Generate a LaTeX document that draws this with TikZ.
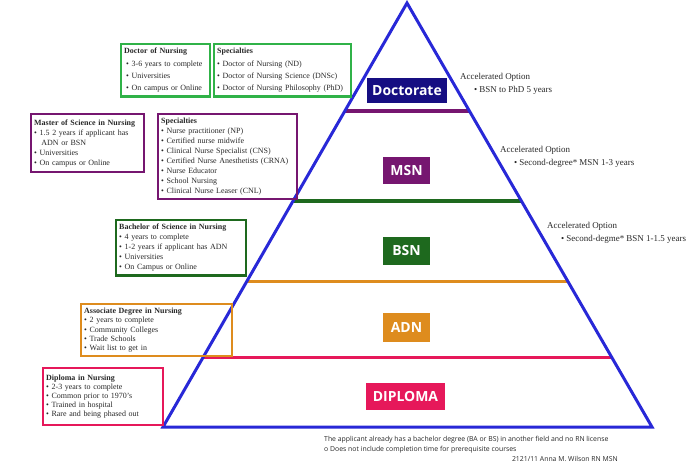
\documentclass[tikz,border=0pt]{standalone}
\usepackage{fontspec}
\setmainfont{Liberation Serif}
\setsansfont{Open Sans}
\usepackage{tikz}
\usetikzlibrary{calc,positioning}
\definecolor{pyrblue}{RGB}{40,40,215}
\definecolor{docnavy}{RGB}{22,14,130}
\definecolor{docgreen}{RGB}{48,178,72}
\definecolor{msnpurple}{RGB}{118,22,112}
\definecolor{bsngreen}{RGB}{30,105,30}
\definecolor{adnorange}{RGB}{222,140,30}
\definecolor{dippink}{RGB}{230,24,90}
\definecolor{notegray}{RGB}{40,40,40}
\newcommand{\levelLine}[2]{
    \draw[levelline,draw=#2] ($(APEX)!#1!(BASEL)$) -- ($(APEX)!#1!(BASER)$);
}
\newcommand{\bul}{\textbullet\ }

\begin{document}
\begin{tikzpicture}[x=1bp,y=-1bp]
    \tikzstyle{infobox}=[rectangle,draw,line width=2.4bp,anchor=north west,%
    inner xsep=3bp,inner ysep=4bp,align=left,font=\fontsize{8}{10}\selectfont,text=notegray] %
    \tikzstyle{degree}=[rectangle,text=white,inner sep=0pt,%
    font=\sffamily\bfseries\fontsize{14}{14}\selectfont] %
    \tikzstyle{levelline}=[line width=3.2bp] %
    \tikzstyle{accel}=[anchor=north west,align=left,inner sep=0pt,%
    font=\fontsize{9}{12.8}\selectfont,text=notegray] %
    \tikzstyle{note}=[inner sep=0pt,font=\sffamily\fontsize{6.9}{10}\selectfont,%
    text=notegray] %

    \useasboundingbox (0,0) rectangle (700,465);

    %% Pyramid
    \coordinate (APEX) at (407,3);
    \coordinate (BASEL) at (163,427);
    \coordinate (BASER) at (652,427);
    \levelLine{0.2547}{msnpurple};
    \levelLine{0.467}{bsngreen};
    \levelLine{0.656}{adnorange};
    \levelLine{0.837}{dippink};
    \draw[pyrblue,line width=3bp,line join=miter] (APEX) -- (BASER) -- (BASEL) -- cycle;

    \node[degree,fill=docnavy,minimum width=80bp,minimum height=25bp] (DOC) at (407,90.5) {Doctorate};
    \node[degree,fill=msnpurple,minimum width=47bp,minimum height=27bp] (MSN) at (406.5,170.5) {MSN};
    \node[degree,fill=bsngreen,minimum width=47bp,minimum height=28bp] (BSN) at (406.5,251) {BSN};
    \node[degree,fill=adnorange,minimum width=47bp,minimum height=28bp] (ADN) at (406.5,327.5) {ADN};
    \node[degree,fill=dippink,minimum width=79bp,minimum height=27bp] (DIP) at (405.5,396.5) {DIPLOMA};

    %% Boxes on the left
    \node[infobox,draw=docgreen,minimum width=89bp,minimum height=51bp,text width=83bp,%
    font=\fontsize{8}{12.4}\selectfont] (DOCBOX) at (120,43) {%
      \textbf{Doctor of Nursing}\\
      \hspace*{2bp}\bul 3-6 years to complete\\
      \hspace*{2bp}\bul Universities\\
      \hspace*{2bp}\bul On campus or Online};
    \node[infobox,draw=docgreen,minimum width=137bp,minimum height=51bp,text width=131bp,%
    font=\fontsize{8}{12.4}\selectfont] (DOCSPEC) at (213,43) {%
      \textbf{Specialties}\\
      \bul Doctor of Nursing (ND)\\
      \bul Doctor of Nursing Science (DNSc)\\
      \bul Doctor of Nursing Philosophy (PhD)};

    \node[infobox,draw=msnpurple,minimum width=113bp,minimum height=58bp,text width=107bp] (MSNBOX) at (30,113) {%
      \textbf{Master of Science in Nursing}\\
      \bul 1.5 2 years if applicant has\\
      \hspace*{0.9em}ADN or BSN\\
      \bul Universities\\
      \bul On campus or Online};
    \node[infobox,draw=msnpurple,minimum width=139bp,minimum height=84bp,text width=133bp] (MSNSPEC) at (157,113) {%
      \textbf{Specialties}\\
      \bul Nurse practitioner (NP)\\
      \bul Certified nurse midwife\\
      \bul Clinical Nurse Specialist (CNS)\\
      \bul Certified Nurse Anesthetists (CRNA)\\
      \bul Nurse Educator\\
      \bul School Nursing\\
      \bul Clinical Nurse Leaser (CNL)};

    \node[infobox,draw=bsngreen,minimum width=130bp,minimum height=51bp,text width=124bp] (BSNBOX) at (115,219) {%
      \textbf{Bachelor of Science in Nursing}\\
      \bul 4 years to complete\\
      \bul 1-2 years if applicant has ADN\\
      \bul Universities\\
      \bul On Campus or Online};

    \node[infobox,draw=adnorange,minimum width=151bp,minimum height=49bp,text width=145bp,%
    font=\fontsize{8}{9.2}\selectfont] (ADNBOX) at (80,303) {%
      \textbf{Associate Degree in Nursing}\\
      \bul 2 years to complete\\
      \bul Community Colleges\\
      \bul Trade Schools\\
      \bul Wait list to get in};

    \node[infobox,draw=dippink,minimum width=120bp,minimum height=57bp,text width=114bp,%
    font=\fontsize{8}{9.2}\selectfont] (DIPBOX) at (42,367) {%
      \textbf{Diploma in Nursing}\\
      \bul 2-3 years to complete\\
      \bul Common prior to 1970's\\
      \bul Trained in hospital\\
      \bul Rare and being phased out};

    %% Accelerated options
    \node[accel] (ACCDOC) at (460,73) {Accelerated Option\\ \hspace*{1.55em}\bul BSN to PhD 5 years};
    \node[accel] (ACCMSN) at (500,146) {Accelerated Option\\ \hspace*{1.55em}\bul Second-degree* MSN 1-3 years};
    \node[accel] (ACCBSN) at (547,222.5) {Accelerated Option\\ \hspace*{1.55em}\bul Second-degme* BSN 1-1.5 years};

    %% Notes
    \node[note,anchor=base west] (NOTEA) at (324,441) {The applicant already has a bachelor degree (BA or BS) in another field and no RN license};
    \node[note,anchor=base west] (NOTEB) at (324,451) {o Does not include completion time for prerequisite courses};
    \node[note,anchor=base east] (NOTEC) at (618,461) {2121/11 Anna M. Wilson RN MSN};
\end{tikzpicture}
\end{document}
